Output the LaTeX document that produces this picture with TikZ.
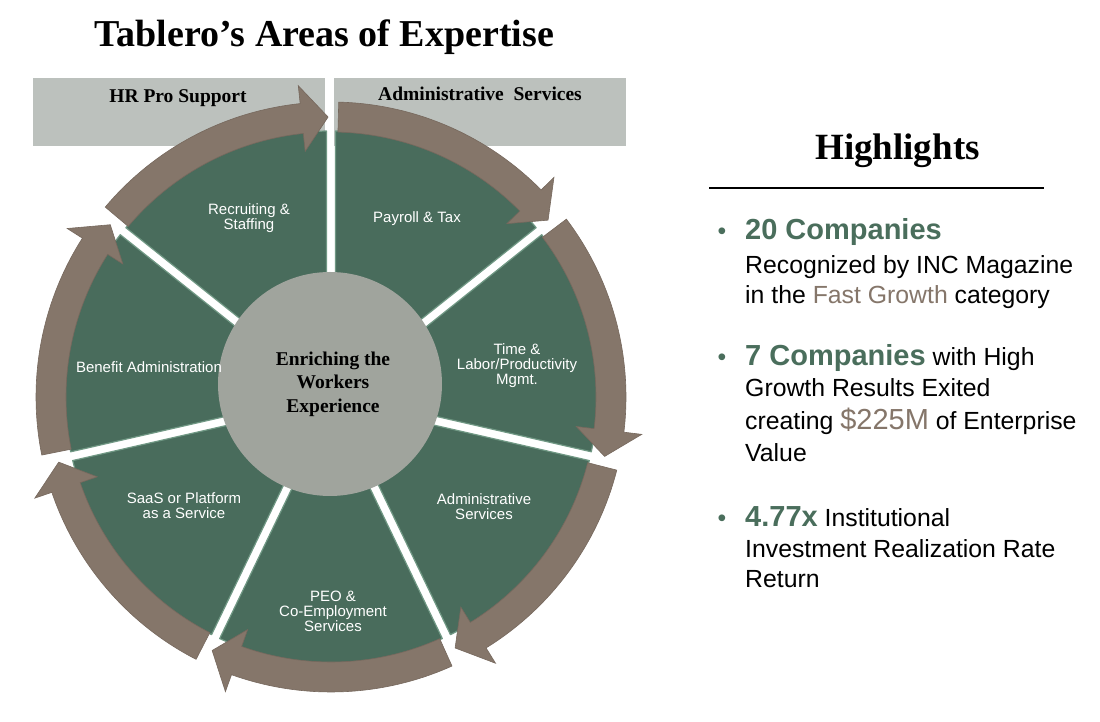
\documentclass[tikz,border=0pt]{standalone}
\usepackage{fontspec}
\setmainfont{Liberation Serif}
\setsansfont{Liberation Sans}
\usetikzlibrary{calc}
\definecolor{sectgreen}{RGB}{73,108,92}
\definecolor{arrowbrown}{RGB}{133,118,106}
\definecolor{arrowedge}{RGB}{118,104,93}
\definecolor{hubgrey}{RGB}{160,164,157}
\definecolor{headgrey}{RGB}{188,193,189}
\definecolor{bevel}{RGB}{112,152,132}
\definecolor{hlgreen}{RGB}{74,110,92}
\definecolor{hlbrown}{RGB}{133,118,106}
\tikzset{
  headbox/.style={fill=headgrey, draw=none, inner sep=0pt, anchor=south west},
  headtext/.style={font=\bfseries\fontsize{19.5}{22}\selectfont, inner sep=0pt, anchor=base},
  sectlabel/.style={text=white, font=\sffamily\fontsize{15}{15}\selectfont, align=center, inner sep=0pt},
  hubnode/.style={circle, fill=hubgrey, minimum size=224pt, inner sep=0pt, align=center,
    font=\bfseries\fontsize{19.5}{23.5}\selectfont},
  bigtitle/.style={font=\bfseries\fontsize{38}{44}\selectfont, inner sep=0pt, anchor=base},
  hltitle/.style={font=\bfseries\fontsize{37}{44}\selectfont, inner sep=0pt, anchor=base},
  hlline/.style={font=\sffamily\fontsize{24.8}{30}\selectfont, anchor=base west, inner sep=0pt},
  hlbullet/.style={font=\sffamily\fontsize{24.8}{30}\selectfont, text=hlgreen, anchor=base, inner sep=0pt},
  sectfill/.style={fill=sectgreen, draw=bevel, line width=1.2pt, line join=round},
  arrowfill/.style={fill=arrowbrown, draw=arrowedge, line width=0.6pt, line join=miter}
}
\newcommand{\hlb}[1]{{\color{hlgreen}\bfseries\fontsize{29}{30}\selectfont #1}}
\begin{document}
\begin{tikzpicture}[x=1pt,y=1pt]
\useasboundingbox (0,0) rectangle (1100,722);
\fill[white] (0,0) rectangle (1100,722);

% title
\node[bigtitle] (title) at (324.5,675) {Tablero’s Areas of Expertise};

% header boxes
\node[headbox, minimum width=292pt, minimum height=68pt] (hrbox) at (33,576) {};
\node[headbox, minimum width=292pt, minimum height=68pt] (adbox) at (334,576) {};
\node[headtext] (hrtext) at (178,619) {HR Pro Support};
\node[headtext] (adtext) at (480,621) {Administrative\ \ Services};

\coordinate (C) at (331,325);

% sectors
\foreach \k in {0,...,6}{
  \pgfmathsetmacro\a{90-\k*360/7}
  \pgfmathsetmacro\b{\a-360/7}
  \pgfmathsetmacro\m{\a-180/7}
  \path[sectfill] ($(C)+(\m:10.4)$) -- ($(C)+({\a-0.97}:266)$)
     arc[start angle={\a-0.97}, end angle={\b+0.97}, radius=266] -- cycle;
}

% curved arrows
\foreach \k in {0,...,6}{
  \pgfmathsetmacro\a{90-\k*360/7}
  \pgfmathsetmacro\b{\a-360/7}
  \path[arrowfill] ($(C)+({\a-1.5}:295)$)
     arc[start angle={\a-1.5}, end angle={\b+6}, radius=295]
     -- ($(C)+({\b+6}:313)$) -- ($(C)+({\b+0.6}:280)$) -- ($(C)+({\b+6}:247)$)
     -- ($(C)+({\b+6}:265)$)
     arc[start angle={\b+6}, end angle={\a-1.5}, radius=265] -- cycle;
}

% hub
\node[hubnode] (hub) at (330,338) {\hspace{6pt}Enriching the\\\hspace{6pt}Workers\\\hspace{6pt}Experience};

% sector labels
\node[sectlabel] (recr) at (249,503.5) {Recruiting \&\\Staffing};
\node[sectlabel] (payr) at (417,503) {Payroll \& Tax};
\node[sectlabel] (time) at (517,356) {Time \&\\Labor/Productivity\\Mgmt.};
\node[sectlabel] (bene) at (149,355) {Benefit Administration};
\node[sectlabel] (admn) at (484,215.5) {Administrative\\Services};
\node[sectlabel] (saas) at (184,216.5) {SaaS or Platform\\as a Service};
\node[sectlabel] (peo) at (333,111) {PEO \&\\Co-Employment\\Services};

% highlights
\node[hltitle] (hltitle) at (897.5,562) {Highlights};
\coordinate (ruleL) at (709,534);
\coordinate (ruleR) at (1044,534);
\draw[line width=2pt] (ruleL) -- (ruleR);

\node[hlbullet] (b1) at (722,482) {•};
\node[hlline] (l11) at (745,482) {\hlb{20 Companies}};
\node[hlline] (l12) at (745,448) {Recognized by INC Magazine};
\node[hlline] (l13) at (745,418) {in the \textcolor{hlbrown}{Fast Growth} category};

\node[hlbullet] (b2) at (722,356) {•};
\node[hlline] (l21) at (745,356) {\hlb{7 Companies} with High};
\node[hlline] (l22) at (745,325) {Growth Results Exited};
\node[hlline] (l23) at (745,292) {creating {\color{hlbrown}\fontsize{29}{30}\selectfont \$225M} of Enterprise};
\node[hlline] (l24) at (745,260) {Value};

\node[hlbullet] (b3) at (722,195) {•};
\node[hlline] (l31) at (745,195) {\hlb{4.77x} Institutional};
\node[hlline] (l32) at (745,164) {Investment Realization Rate};
\node[hlline] (l33) at (745,134) {Return};
\end{tikzpicture}
\end{document}
